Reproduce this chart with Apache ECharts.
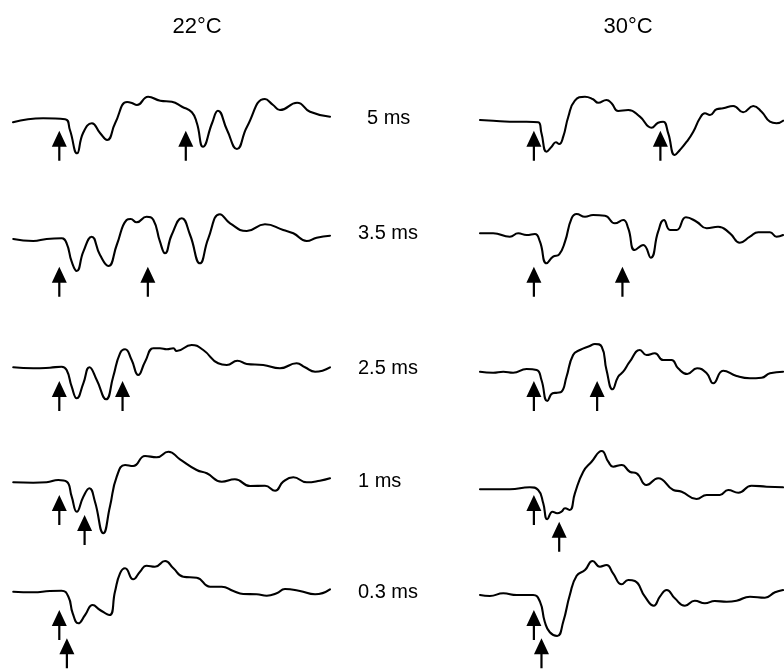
<!DOCTYPE html>
<html>
<head>
<meta charset="utf-8">
<script src="https://cdn.jsdelivr.net/npm/echarts@6/dist/echarts.min.js"></script>
<style>
  html, body { margin: 0; padding: 0; background: #fff; }
  #chart { width: 784px; height: 670px; }
</style>
</head>
<body>
<div id="chart"></div>
<script>
// Paired-pulse responses at two temperatures.
// Time in ms from the first stimulus; amplitude in arbitrary units (up = positive).

const temps = ['22°C', '30°C'];
const intervals = [5, 3.5, 2.5, 1, 0.3];
const intervalLabels = ['5 ms', '3.5 ms', '2.5 ms', '1 ms', '0.3 ms'];

// 22°C traces
const t22_5 = [[-1.83,-2.3],[-0.64,1.7],[0.23,0.7],[0.42,-10],[0.70,-33.3],[0.94,-13],[1.29,-3.3],[1.61,-13],[1.89,-20],[2.21,-3],[2.68,18],[2.87,17],[3.07,15],[3.51,23.3],[3.99,19.3],[4.45,18.3],[4.85,13.3],[5.24,7.7],[5.44,-3.3],[5.68,-26.7],[6.04,-3],[6.27,9.3],[6.63,-10],[7.02,-29],[7.42,-6.7],[8.13,21],[8.45,15],[8.72,10],[9.40,17.3],[9.91,8.3],[10.70,3.3]];
const t22_35 = [[-1.82,-2],[-1.03,-4],[-0.50,-2],[0.09,-1.3],[0.29,-6.3],[0.49,-24.7],[0.69,-34],[0.95,-14.7],[1.28,0.3],[1.61,-18],[1.94,-29],[2.27,-8],[2.66,17],[2.82,18],[3.06,14.7],[3.45,20.3],[3.72,17],[3.98,-4.7],[4.18,-16.3],[4.44,2],[4.84,18.7],[5.17,2],[5.56,-26.3],[5.89,-1.3],[6.35,22.7],[6.75,13.7],[7.41,6],[8.13,12.7],[8.85,7],[9.25,3.7],[9.78,-4],[10.17,-0.7],[10.70,1.3]];
const t22_25 = [[-1.82,0.7],[-1.03,-0.3],[-0.37,0.3],[0.09,1.3],[0.29,-2],[0.49,-18.7],[0.69,-30.3],[0.95,-15.3],[1.19,0.7],[1.48,-12],[1.85,-31.3],[2.13,-8.7],[2.40,14.7],[2.60,18.7],[2.86,8],[3.12,-7],[3.39,6.3],[3.72,19.7],[3.98,19.7],[4.25,18.7],[4.51,19.7],[4.64,17],[5.23,23],[5.69,18],[6.28,4.7],[6.62,3],[7.04,7.3],[7.41,4],[8.06,3],[8.72,-0.3],[9.38,4.7],[9.71,0.7],[10.11,-3.7],[10.70,0.7]];
const t22_1 = [[-1.82,0.7],[-1.03,0.3],[-0.50,0.7],[-0.04,3],[0.29,1.3],[0.49,-13.7],[0.69,-28.7],[0.95,-13.7],[1.19,-5.3],[1.41,-18.7],[1.74,-50.3],[2.00,-23.7],[2.27,6.3],[2.60,18],[2.92,17],[3.39,27],[3.85,25.7],[4.31,31.3],[4.77,23.7],[5.43,13],[5.83,9.7],[6.42,1.3],[6.94,3.7],[7.54,-3],[8.13,-2.7],[8.53,-7.7],[8.85,1.3],[9.25,5.7],[9.78,0.7],[10.30,2.3],[10.70,4.7]];
const t22_03 = [[-1.82,0.3],[-1.03,-0.3],[-0.37,1],[0.09,1.3],[0.36,-4.7],[0.53,-21.3],[0.75,-31.3],[1.02,-23],[1.32,-13],[1.61,-18],[1.98,-23],[2.20,0.3],[2.40,18.7],[2.60,23.7],[2.92,12.7],[3.19,20.3],[3.45,26.3],[3.78,25.3],[4.18,31],[4.51,23.7],[4.90,15.3],[5.43,14.3],[5.96,5.3],[6.42,5.3],[6.88,1],[7.27,-2],[7.80,-2.3],[8.20,-3.7],[8.59,-1.3],[8.92,3],[9.51,1],[10.11,-2.3],[10.70,2.7]];

// 30°C traces
const t30_5 = [[-2.13,0],[-1.61,-0.7],[-0.95,-1.7],[-0.29,-1.7],[0.17,-2.3],[0.30,-13.3],[0.50,-31.7],[0.70,-26.7],[0.87,-22.3],[1.00,-24],[1.16,-16.7],[1.36,3.3],[1.62,19.3],[2.02,23.3],[2.34,20.7],[2.54,17.3],[2.87,20],[3.07,16.7],[3.33,9],[3.73,10],[4.19,3.3],[4.65,-7.7],[4.91,-2.7],[5.11,-1.7],[5.31,-13.3],[5.57,-35],[5.77,-30],[6.04,-21.7],[6.30,-11.7],[6.56,1.7],[6.76,6.7],[6.96,5],[7.22,10.7],[7.48,11.7],[7.88,14],[8.27,7.7],[8.67,14],[9.00,8.3],[9.33,-1.7],[9.59,-3.3],[9.85,-0.7]];
const t30_35 = [[-2.13,3.7],[-1.61,3.7],[-0.95,0.3],[-0.62,3.7],[-0.29,2],[0.04,3],[0.24,-4.7],[0.50,-26.3],[0.76,-19.7],[1.00,-17.3],[1.23,-4.7],[1.49,18.7],[1.69,23],[2.02,20.3],[2.34,22],[2.81,21.3],[3.20,13.7],[3.53,17],[3.73,8.7],[3.99,-13],[4.32,-8],[4.62,-20.7],[4.91,5.3],[5.14,17],[5.38,7],[5.64,7],[6.01,19.7],[6.43,15.3],[6.83,8.7],[7.28,10.3],[7.75,3.7],[8.14,-5.7],[8.54,0.3],[8.87,4.7],[9.33,4.7],[9.59,0.3],[9.85,2]];
const t30_25 = [[-2.13,-3.7],[-1.61,-4.7],[-1.21,-3.7],[-0.82,-4.7],[-0.29,-1],[0.11,-2],[0.30,-12],[0.53,-33],[0.74,-25.3],[0.92,-24.7],[1.09,-23.7],[1.29,-8.7],[1.55,13],[1.82,18],[2.21,22],[2.41,24],[2.68,21.3],[2.87,-2],[3.11,-21.3],[3.33,-8.7],[3.53,-3.7],[3.79,6.3],[4.19,18],[4.45,13],[4.78,14.7],[5.11,8],[5.44,8],[5.70,-0.3],[6.06,-6],[6.45,-0.3],[6.83,-5.3],[7.09,-15.3],[7.48,-2.7],[8.01,-8],[8.54,-10.3],[9.00,-9.7],[9.33,-5.3],[9.85,-3.7]];
const t30_1 = [[-2.13,-6.3],[-0.95,-6.3],[-0.16,-4.3],[0.17,-7],[0.37,-20.3],[0.53,-36.3],[0.74,-28.7],[0.92,-30.3],[1.09,-28.7],[1.23,-25.3],[1.42,-27],[1.62,-10.3],[1.95,11.3],[2.28,21.3],[2.68,32],[2.94,21.3],[3.13,16.3],[3.47,18],[3.79,11.3],[4.06,9.7],[4.45,-2],[4.91,4.7],[5.51,-7],[5.84,-8.7],[6.43,-16],[6.83,-12],[7.35,-12],[7.68,-7],[8.08,-9.7],[8.60,-2.7],[9.20,-3.7],[9.85,-4.3]];
const t30_03 = [[-2.13,-3],[-1.74,-4],[-1.21,-1.3],[-0.68,-3],[-0.03,-3],[0.24,-9.7],[0.43,-29.7],[0.63,-40.3],[0.92,-44],[1.16,-29.7],[1.42,-3],[1.69,16.3],[2.02,22],[2.32,31],[2.61,25.3],[2.87,27],[3.13,18.7],[3.47,7.7],[3.73,12],[3.99,11],[4.39,-4.7],[4.74,-13.7],[4.98,-4.7],[5.25,2],[5.57,-6.3],[5.97,-13.7],[6.36,-8.7],[6.76,-11.3],[7.15,-9],[7.62,-9.7],[8.01,-8.7],[8.54,-4.7],[9.13,-5.7],[9.53,-0.3],[9.85,2]];

// Arrow tip levels (amplitude units) for [first, second] stimulus per row
const arrowTips22 = [[-10.7,-10.7],[-29.7,-29.7],[-13,-13],[-12,-32],[-18,-46.3]];
const arrowTips30 = [[-10.7,-10.7],[-29.7,-29.7],[-13,-13],[-12,-38.7],[-18,-46.3]];

const traces = [
  [t22_5, t22_35, t22_25, t22_1, t22_03],
  [t30_5, t30_35, t30_25, t30_1, t30_03]
];
const arrowTips = [arrowTips22, arrowTips30];

// ---- layout ----
const rowZero = [120, 237, 368, 483, 592];
const colLeft = [13, 480];
const colWidth = [317, 304];
const colXMin = [-1.83, -2.13];
const pxPerMs = 25.3;
const yMin = -60, yMax = 40;

const arrowPath = 'path://M7.5,0 L15,16 L8.6,16 L8.6,30 L6.4,30 L6.4,16 L0,16 Z';

const grids = [], xAxes = [], yAxes = [], series = [];
let gi = 0;
for (let c = 0; c < 2; c++) {
  for (let r = 0; r < 5; r++) {
    grids.push({
      left: colLeft[c], top: rowZero[r] - yMax, width: colWidth[c], height: yMax - yMin,
      containLabel: false
    });
    xAxes.push({
      type: 'value', gridIndex: gi, min: colXMin[c], max: colXMin[c] + colWidth[c] / pxPerMs,
      show: false
    });
    yAxes.push({ type: 'value', gridIndex: gi, min: yMin, max: yMax, show: false });
    series.push({
      type: 'line', xAxisIndex: gi, yAxisIndex: gi,
      data: traces[c][r], smooth: 0.5, showSymbol: false, clip: false,
      lineStyle: { color: '#000', width: 2.1, join: 'round', cap: 'round' },
      silent: true, animation: false
    });
    series.push({
      type: 'scatter', xAxisIndex: gi, yAxisIndex: gi,
      data: [[0, arrowTips[c][r][0]], [intervals[r], arrowTips[c][r][1]]],
      symbol: arrowPath, symbolSize: [15, 30], symbolOffset: [0, 15],
      symbolKeepAspect: false, clip: false,
      itemStyle: { color: '#000', opacity: 1 }, silent: true, animation: false, z: 3
    });
    gi++;
  }
}

// ---- text ----
const labelPos = [[367, 118], [358, 233], [358, 368], [358, 481], [358, 592]];
const titleFont = '22px "Liberation Sans", Arial, sans-serif';
const labelFont = '20px "Liberation Sans", Arial, sans-serif';
const graphics = [
  { type: 'text', x: 197, y: 27, style: { text: temps[0], font: titleFont, fill: '#000', textAlign: 'center', textVerticalAlign: 'middle' } },
  { type: 'text', x: 628, y: 27, style: { text: temps[1], font: titleFont, fill: '#000', textAlign: 'center', textVerticalAlign: 'middle' } }
];
intervalLabels.forEach((s, i) => {
  graphics.push({
    type: 'text', x: labelPos[i][0], y: labelPos[i][1],
    style: { text: s, font: labelFont, fill: '#000', textAlign: 'left', textVerticalAlign: 'middle' }
  });
});

const chart = echarts.init(document.getElementById('chart'), null, { renderer: 'canvas' });
chart.setOption({
  backgroundColor: '#fff',
  animation: false,
  grid: grids, xAxis: xAxes, yAxis: yAxes, series: series,
  graphic: graphics
});
</script>
</body>
</html>
